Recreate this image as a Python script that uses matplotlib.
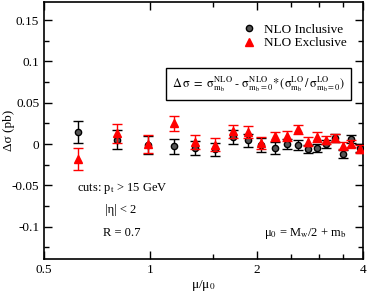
import matplotlib
matplotlib.use('Agg')
import matplotlib.pyplot as plt
from matplotlib.lines import Line2D
from matplotlib.ticker import FixedLocator, FuncFormatter, MultipleLocator

plt.rcParams['font.family'] = ['Liberation Serif', 'DejaVu Serif']
plt.rcParams['mathtext.fontset'] = 'stix'

# mu / mu0 values
mu_ratio = [0.626, 0.806, 0.983, 1.165, 1.34, 1.52, 1.71, 1.89, 2.06, 2.25,
            2.43, 2.61, 2.79, 2.96, 3.15, 3.33, 3.52, 3.70, 3.93]

# NLO inclusive
incl = [0.0145, 0.0052, -0.0008, -0.0029, -0.0048, -0.0065, 0.0085, 0.0044, -0.001, -0.0048,
        0.0, -0.001, -0.0057, -0.0048, 0.0, 0.0073, -0.012, 0.006, -0.0048]
incl_err = [0.0135, 0.0115, 0.0107, 0.0095, 0.008, 0.008, 0.008, 0.008, 0.008, 0.007,
            0.006, 0.006, 0.005, 0.005, 0.005, 0.005, 0.005, 0.005, 0.0045]

# NLO exclusive
excl = [-0.0185, 0.0133, 0.0003, 0.0254, 0.0024, -0.0008, 0.0153, 0.0145, 0.0012, 0.0092,
        0.0097, 0.0177, 0.003, 0.0088, 0.0048, 0.0073, -0.0017, 0.0005, -0.006]
excl_err = [0.0133, 0.0115, 0.011, 0.009, 0.0087, 0.008, 0.008, 0.0075, 0.007, 0.006,
            0.0065, 0.0055, 0.005, 0.006, 0.005, 0.0048, 0.0046, 0.0045, 0.005]

fig = plt.figure(figsize=(3.67, 2.91), dpi=100)
ax = fig.add_axes([44/367, 32/291, 319/367, 257.5/291])

ax.errorbar(mu_ratio, incl, yerr=incl_err, fmt='o', color='black', mfc='#555555',
            mec='black', ms=4.5, mew=1.0, elinewidth=1.0, capsize=3.5, capthick=1.0,
            zorder=3)
ax.errorbar(mu_ratio, excl, yerr=excl_err, fmt='^', color='red', mfc='red', mec='red',
            ms=5.5, elinewidth=1.0, capsize=3.5, capthick=1.0, zorder=4)

ax.set_xscale('log')
ax.set_xlim(0.5, 4)
ax.set_ylim(-0.139, 0.1725)
ax.xaxis.set_major_locator(FixedLocator([0.5, 1, 2, 4]))
ax.xaxis.set_minor_locator(FixedLocator([1.5, 2.5, 3, 3.5]))
ax.xaxis.set_major_formatter(FuncFormatter(lambda v, p: '%g' % v))
ax.xaxis.set_minor_formatter(FuncFormatter(lambda v, p: ''))
ax.yaxis.set_major_locator(MultipleLocator(0.05))
ax.yaxis.set_minor_locator(MultipleLocator(0.025))
ax.yaxis.set_major_formatter(FuncFormatter(lambda v, p: '%g' % round(v, 3)))

ax.tick_params(which='both', direction='in', top=True, right=True, labelsize=9.5)
ax.tick_params(which='major', length=6, width=1)
ax.tick_params(which='minor', length=3.5, width=1)
for s in ax.spines.values():
    s.set_linewidth(1.2)

ax.set_xlabel('μ/μ$_0$', fontsize=9.5)
ax.set_ylabel('Δσ (pb)', fontsize=9.5)
ax.xaxis.set_label_coords(0.5, -0.072)
ax.yaxis.set_label_coords(-0.092, 0.5)

handles = [Line2D([], [], ls='none', marker='o', mfc='#555555', mec='black', ms=4.5, mew=1.0),
           Line2D([], [], ls='none', marker='^', mfc='red', mec='red', ms=5.5)]
ax.legend(handles, ['NLO Inclusive', 'NLO Exclusive'], loc='upper right',
          bbox_to_anchor=(0.985, 0.96), frameon=False, fontsize=9.5,
          handletextpad=0.5, labelspacing=0.1, handlelength=1.2)

ax.text(0.672, 0.68,
        r'$\mathrm{\Delta\,\sigma\ =\ \sigma^{NLO}_{m_b}\ \text{-}\ \sigma^{NLO}_{m_b=0}{*}\,(\sigma^{LO}_{m_b}\,/\,\sigma^{LO}_{m_b=0})}$',
        transform=ax.transAxes, ha='center', va='center', fontsize=8.8,
        bbox=dict(boxstyle='square,pad=0.5', fc='white', ec='black', lw=1.0))

ax.text(0.104, 0.265, 'cuts: p$_{\\rm t}$ > 15 GeV', transform=ax.transAxes, fontsize=9)
ax.text(0.19, 0.18, '|η| < 2', transform=ax.transAxes, fontsize=9)
ax.text(0.185, 0.09, 'R = 0.7', transform=ax.transAxes, fontsize=9)
ax.text(0.69, 0.09, 'μ$_0$ = M$_{\\rm w}$/2 + m$_{\\rm b}$', transform=ax.transAxes, fontsize=9)

fig.savefig('out.png', dpi=100)
